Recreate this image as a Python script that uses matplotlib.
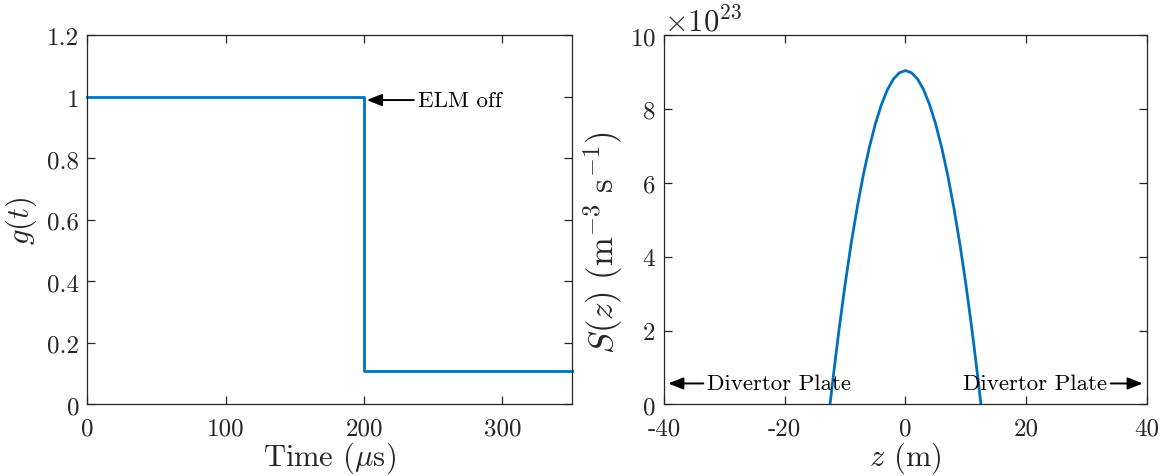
import matplotlib as mpl

mpl.use("Agg")
import matplotlib.pyplot as plt
from matplotlib.ticker import FormatStrFormatter

# --- data ------------------------------------------------------------------
# left panel: switching function g(t), t in microseconds
t_us = [0, 200, 200, 350]
g_t = [1.0, 1.0, 0.11, 0.11]

# right panel: source profile S(z), z in m, S in m^-3 s^-1
z_m = [-12.5, -12, -11, -10, -9, -8, -7, -6, -5, -4, -3, -2, -1, 0,
       1, 2, 3, 4, 5, 6, 7, 8, 9, 10, 11, 12, 12.5]
s_z = [0.0, 0.71, 2.04, 3.26, 4.36, 5.34, 6.21, 6.96, 7.60, 8.12, 8.53, 8.82, 8.99, 9.05,
       8.99, 8.82, 8.53, 8.12, 7.60, 6.96, 6.21, 5.34, 4.36, 3.26, 2.04, 0.71, 0.0]
s_z = [v * 1e23 for v in s_z]

BLUE = "#0072BD"
INK = "#262626"

mpl.rcParams.update(
    {
        "font.family": "serif",
        "font.serif": ["cmr10", "DejaVu Serif"],
        "mathtext.fontset": "cm",
        "axes.unicode_minus": False,
        "axes.formatter.use_mathtext": True,
        "font.size": 18,
        "axes.linewidth": 0.9,
        "axes.edgecolor": INK,
        "xtick.color": INK,
        "ytick.color": INK,
        "xtick.direction": "in",
        "ytick.direction": "in",
        "xtick.top": True,
        "ytick.right": True,
        "xtick.major.size": 6,
        "ytick.major.size": 6,
        "xtick.major.width": 0.9,
        "ytick.major.width": 0.9,
        "xtick.major.pad": 9,
        "ytick.major.pad": 6,
        "xtick.labelsize": 18,
        "ytick.labelsize": 18,
    }
)

fig = plt.figure(figsize=(11.68, 4.77), dpi=100)
ax_a = fig.add_axes([0.0749, 0.1499, 0.4144, 0.7736])
ax_b = fig.add_axes([0.5685, 0.1499, 0.4135, 0.7736])

arrow = dict(arrowstyle="-|>,head_length=0.55,head_width=0.22", color="black", lw=1.4,
             shrinkA=1, shrinkB=0)

# left: g(t)
ax_a.plot(t_us, g_t, color=BLUE, lw=2.0, clip_on=False)
ax_a.set_xlim(0, 350)
ax_a.set_ylim(0, 1.2)
ax_a.set_xticks([0, 100, 200, 300])
ax_a.set_yticks([0, 0.2, 0.4, 0.6, 0.8, 1.0, 1.2])
ax_a.yaxis.set_major_formatter(FormatStrFormatter("%g"))
ax_a.xaxis.set_major_formatter(FormatStrFormatter("%g"))
ax_a.set_xlabel(r"Time ($\mu$s)", fontsize=22, color=INK, labelpad=0)
ax_a.set_ylabel(r"$g(t)$", fontsize=22, color=INK, labelpad=6)
ax_a.annotate("ELM off", xy=(202, 0.99), xytext=(239, 0.99),
              fontsize=16.5, va="center", ha="left", color="black", arrowprops=arrow)

# right: S(z)
ax_b.plot(z_m, s_z, color=BLUE, lw=2.0)
ax_b.set_xlim(-40, 40)
ax_b.set_ylim(0, 10e23)
ax_b.set_xticks([-40, -20, 0, 20, 40])
ax_b.xaxis.set_major_formatter(FormatStrFormatter("%g"))
ax_b.set_yticks([0, 2e23, 4e23, 6e23, 8e23, 10e23])
ax_b.ticklabel_format(axis="y", style="sci", scilimits=(23, 23))
ax_b.yaxis.get_offset_text().set_fontsize(22)
ax_b.set_xlabel(r"$z$ (m)", fontsize=22, color=INK, labelpad=0)
ax_b.set_ylabel(r"$S(z)\ (\mathrm{m}^{-3}\ \mathrm{s}^{-1})$", fontsize=25, color=INK)
ax_b.yaxis.set_label_coords(-0.08, 0.44)

ax_b.annotate("Divertor Plate", xy=(-39.3, 0.57e23), xytext=(-32.8, 0.57e23),
              fontsize=16.5, va="center", ha="left", arrowprops=arrow)
ax_b.annotate("Divertor Plate", xy=(39.3, 0.57e23), xytext=(33.3, 0.57e23),
              fontsize=16.5, va="center", ha="right", arrowprops=arrow)

fig.savefig("out.png", dpi=100)
